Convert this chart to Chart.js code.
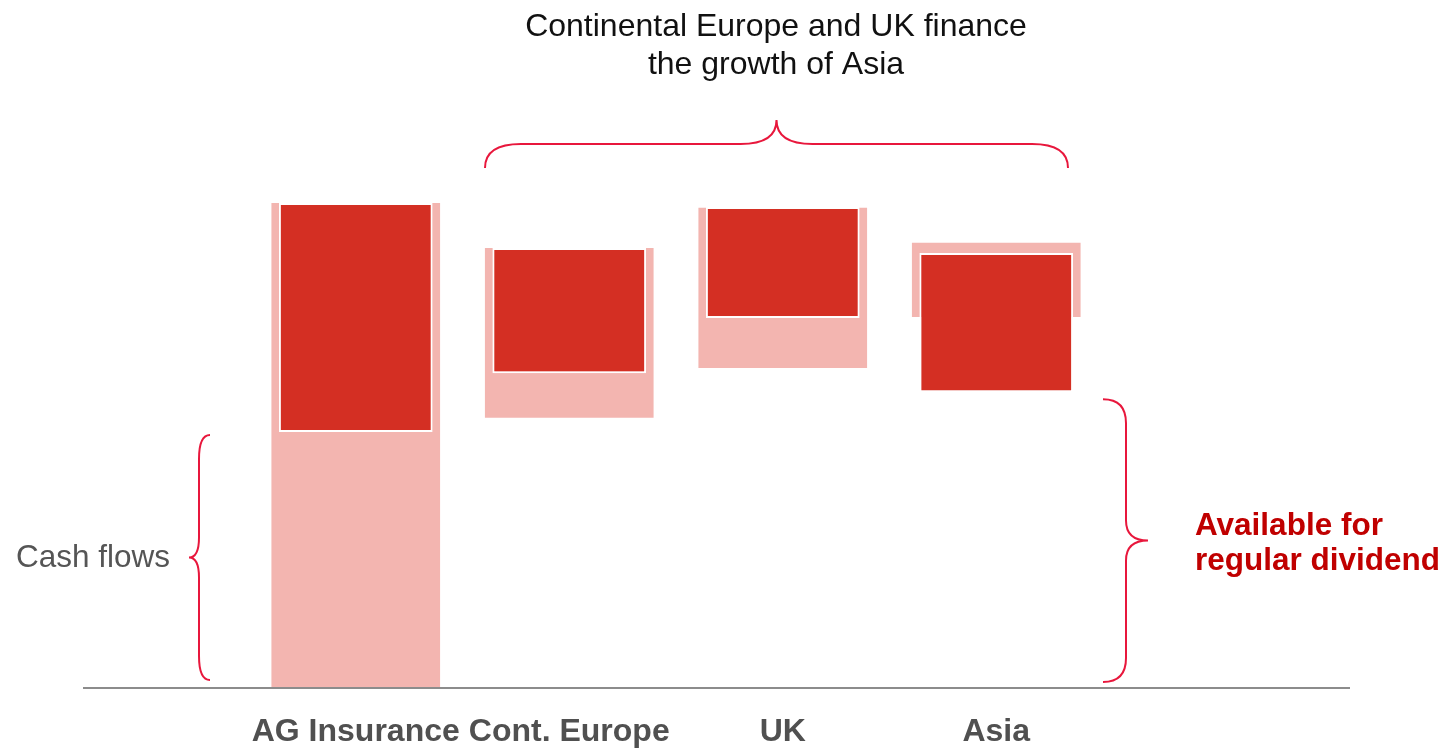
<!DOCTYPE html>
<html>
<head>
<meta charset="utf-8">
<script src="https://cdn.jsdelivr.net/npm/chart.js@4"></script>
<style>
  html, body { margin: 0; padding: 0; background: #fff; }
  canvas { display: block; }
</style>
</head>
<body>
<canvas id="cashChart" width="1450" height="749"></canvas>
<script>
// categories and floating bar ranges (arbitrary units, baseline 0)
const categories = ['AG Insurance', 'Cont. Europe', 'UK', 'Asia'];
const flowLow = [0, 55.7, 66.0, 76.5];
const flowHigh = [100, 90.7, 99.0, 91.8];
const useLow = [52.8, 64.9, 76.3, 61.0];
const useHigh = [100, 90.7, 99.2, 89.7];

const FONT = '"Liberation Sans", Arial, sans-serif';
const BRACE = '#e8173c';

// curly brace, tip pointing sideways (vertical brace)
function vBrace(c, xEnd, xMid, xTip, y1, y2, r, rt) {
  const ym = (y1 + y2) / 2;
  c.beginPath();
  c.moveTo(xEnd, y1);
  c.quadraticCurveTo(xMid, y1, xMid, y1 + r);
  c.lineTo(xMid, ym - rt);
  c.quadraticCurveTo(xMid, ym, xTip, ym);
  c.quadraticCurveTo(xMid, ym, xMid, ym + rt);
  c.lineTo(xMid, y2 - r);
  c.quadraticCurveTo(xMid, y2, xEnd, y2);
  c.stroke();
}

// curly brace, tip pointing up (horizontal brace)
function hBrace(c, yEnd, yMid, yTip, x1, x2, r, rt) {
  const xm = (x1 + x2) / 2;
  c.beginPath();
  c.moveTo(x1, yEnd);
  c.quadraticCurveTo(x1, yMid, x1 + r, yMid);
  c.lineTo(xm - rt, yMid);
  c.quadraticCurveTo(xm, yMid, xm, yTip);
  c.quadraticCurveTo(xm, yMid, xm + rt, yMid);
  c.lineTo(x2 - r, yMid);
  c.quadraticCurveTo(x2, yMid, x2, yEnd);
  c.stroke();
}

const annotations = {
  id: 'annotations',
  afterDatasetsDraw(chart) {
    const c = chart.ctx;
    const y = chart.scales.y;
    const base = y.getPixelForValue(0);
    c.save();

    // baseline
    c.strokeStyle = '#8c8c8c';
    c.lineWidth = 2;
    c.beginPath();
    c.moveTo(83, base);
    c.lineTo(1350, base);
    c.stroke();

    // braces
    c.strokeStyle = BRACE;
    c.lineWidth = 2;
    vBrace(c, 210, 199, 189, y.getPixelForValue(useLow[0]) + 3, base - 8, 24, 20);
    vBrace(c, 1103, 1126, 1148, y.getPixelForValue(useLow[3]) + 7, base - 6, 24, 20);
    hBrace(c, 168, 144, 120, 485, 1068, 36, 36);

    // texts
    c.textAlign = 'center';
    c.textBaseline = 'alphabetic';
    c.fillStyle = '#111';
    c.font = '32px ' + FONT;
    c.fillText('Continental Europe and UK finance', 776, 36);
    c.fillText('the growth of Asia', 776, 74);

    c.textAlign = 'left';
    c.fillStyle = '#555';
    c.font = '31.5px ' + FONT;
    c.fillText('Cash flows', 16, 567);

    c.fillStyle = '#c00000';
    c.font = 'bold 31.5px ' + FONT;
    c.fillText('Available for', 1195, 535);
    c.fillText('regular dividend', 1195, 570);
    c.restore();
  }
};

const ctx = document.getElementById('cashChart').getContext('2d');
const cashChart = new Chart(ctx, {
  type: 'bar',
  data: {
    labels: categories,
    datasets: [{
      label: 'Cash flows',
      data: flowLow.map((v, i) => [v, flowHigh[i]]),
      backgroundColor: '#f3b5b0',
      borderWidth: 0,
      barPercentage: 0.79,
      categoryPercentage: 1,
      grouped: false,
      order: 2
    }, {
      label: 'Use',
      data: useLow.map((v, i) => [v, useHigh[i]]),
      backgroundColor: '#d42f23',
      borderColor: '#ffffff',
      borderWidth: 2,
      borderSkipped: false,
      barPercentage: 0.72,
      categoryPercentage: 1,
      grouped: false,
      order: 1
    }]
  },
  options: {
    responsive: false,
    animation: false,
    layout: {
      padding: { left: 249, right: 347, top: 106, bottom: 0 }
    },
    scales: {
      x: {
        grid: { display: false },
        border: { display: false },
        afterFit(scale) {
          scale.height = 61;
        },
        ticks: {
          color: '#505050',
          padding: 19,
          autoSkip: false,
          maxRotation: 0,
          minRotation: 0,
          font: { family: FONT, size: 32, weight: 'bold', lineHeight: 1.1 }
        }
      },
      y: {
        display: false,
        min: 0,
        max: 120
      }
    },
    plugins: {
      legend: { display: false },
      tooltip: { enabled: false }
    }
  },
  plugins: [annotations]
});
</script>
</body>
</html>
